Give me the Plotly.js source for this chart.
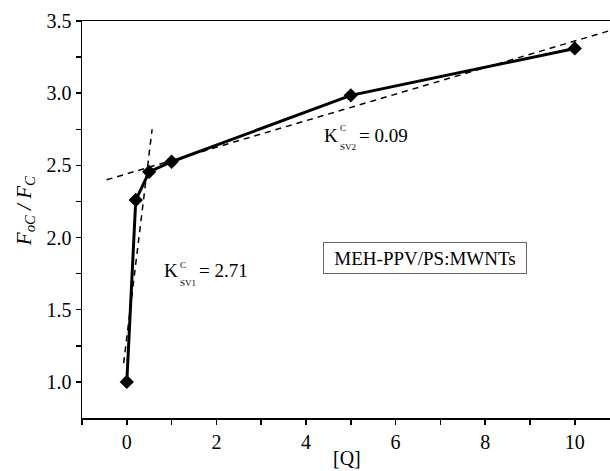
<!DOCTYPE html>
<html>
<head>
<meta charset="utf-8">
<script src="https://cdn.plot.ly/plotly-3.0.1.min.js"></script>
<style>html,body{margin:0;padding:0;background:#fff;}#chart{width:610px;height:471px;}</style>
</head>
<body>
<div id="chart"></div>
<script>
// Data
var qValues = [0, 0.2, 0.5, 1, 5, 10];
var ratioValues = [1.0, 2.26, 2.455, 2.525, 2.985, 3.31];
// Dashed fit lines (endpoints as drawn)
var fit1X = [-0.07, 0.565];
var fit1Y = [1.13, 2.75];
var fit2X = [-0.45, 10.8];
var fit2Y = [2.40, 3.435];
var xTickVals = [0, 2, 4, 6, 8, 10];
var yTickVals = [1.0, 1.5, 2.0, 2.5, 3.0, 3.5];
var k1Label = "= 2.71";
var k2Label = "= 0.09";
var legendLabel = "MEH-PPV/PS:MWNTs";

var serif = "Liberation Serif";

var traces = [
  {x: fit1X, y: fit1Y, mode: "lines", line: {color: "#000", width: 1.5, dash: "6px,5px"}, hoverinfo: "skip", showlegend: false},
  {x: fit2X, y: fit2Y, mode: "lines", line: {color: "#000", width: 1.5, dash: "6px,5px"}, hoverinfo: "skip", showlegend: false},
  {x: qValues, y: ratioValues, mode: "lines+markers",
   line: {color: "#000", width: 3},
   marker: {symbol: "diamond", size: 11, color: "#000"},
   cliponaxis: false, showlegend: false}
];

var txt = {family: serif, size: 19, color: "#000"};
var small = {family: serif, size: 9, color: "#000"};

var annotations = [
  // K_SV2^C = 0.09
  {x: 4.375, y: 2.708, xref: "x", yref: "y", text: "K", showarrow: false, xanchor: "left", yanchor: "middle", font: txt, borderpad: 0},
  {x: 4.73, y: 2.757, xref: "x", yref: "y", text: "C", showarrow: false, xanchor: "left", yanchor: "middle", font: small, borderpad: 0},
  {x: 4.73, y: 2.625, xref: "x", yref: "y", text: "SV2", showarrow: false, xanchor: "left", yanchor: "middle", font: small, borderpad: 0},
  {x: 5.156, y: 2.708, xref: "x", yref: "y", text: k2Label, showarrow: false, xanchor: "left", yanchor: "middle", font: txt, borderpad: 0},
  // K_SV1^C = 2.71
  {x: 0.80, y: 1.774, xref: "x", yref: "y", text: "K", showarrow: false, xanchor: "left", yanchor: "middle", font: txt, borderpad: 0},
  {x: 1.16, y: 1.8125, xref: "x", yref: "y", text: "C", showarrow: false, xanchor: "left", yanchor: "middle", font: small, borderpad: 0},
  {x: 1.16, y: 1.6875, xref: "x", yref: "y", text: "SV1", showarrow: false, xanchor: "left", yanchor: "middle", font: small, borderpad: 0},
  {x: 1.585, y: 1.774, xref: "x", yref: "y", text: k1Label, showarrow: false, xanchor: "left", yanchor: "middle", font: txt, borderpad: 0},
  // boxed label
  {x: 6.652, y: 1.858, xref: "x", yref: "y", text: legendLabel, showarrow: false, xanchor: "center", yanchor: "middle",
   font: txt, bordercolor: "#666", borderwidth: 1, borderpad: 4, width: 194, height: 22},
  // axis titles
  {x: 4.91, y: -0.10, xref: "x", yref: "paper", text: "[Q]", showarrow: false, xanchor: "center", yanchor: "middle", font: {family: serif, size: 20, color: "#000"}},
  {x: -0.108, y: 0.521, xref: "paper", yref: "paper", textangle: -90, showarrow: false, xanchor: "center", yanchor: "middle",
   text: "<i>F</i><sub><i>oC</i></sub><i> / F</i><sub><i>C</i></sub>", font: {family: serif, size: 21, color: "#000"}}
];

var layout = {
  width: 610, height: 471,
  margin: {l: 82, r: 0, t: 21, b: 53},
  paper_bgcolor: "#fff", plot_bgcolor: "#fff",
  showlegend: false,
  font: {family: serif, size: 20, color: "#000"},
  xaxis: {
    range: [-1, 10.786], showgrid: false, zeroline: false,
    showline: true, linecolor: "#000", linewidth: 1.5, mirror: true,
    ticks: "outside", ticklen: 5, tickwidth: 1.5, tickcolor: "#000",
    tickvals: xTickVals, ticktext: xTickVals.map(String),
    minor: {tickvals: [-1, 1, 3, 5, 7, 9], ticks: "outside", ticklen: 5, tickwidth: 1.5, tickcolor: "#000", showgrid: false},
    tickfont: {family: serif, size: 20, color: "#000"}
  },
  yaxis: {
    range: [0.75, 3.5], showgrid: false, zeroline: false,
    showline: true, linecolor: "#000", linewidth: 1.5,
    ticks: "outside", ticklen: 5, tickwidth: 1.5, tickcolor: "#000",
    tickvals: yTickVals, ticktext: yTickVals.map(function(v){return v.toFixed(1);}),
    minor: {tickvals: [1.25, 1.75, 2.25, 2.75, 3.25], ticks: "outside", ticklen: 5, tickwidth: 1.5, tickcolor: "#000", showgrid: false},
    tickfont: {family: serif, size: 20, color: "#000"}
  },
  annotations: annotations
};

Plotly.newPlot("chart", traces, layout, {displayModeBar: false, staticPlot: true});
</script>
</body>
</html>
